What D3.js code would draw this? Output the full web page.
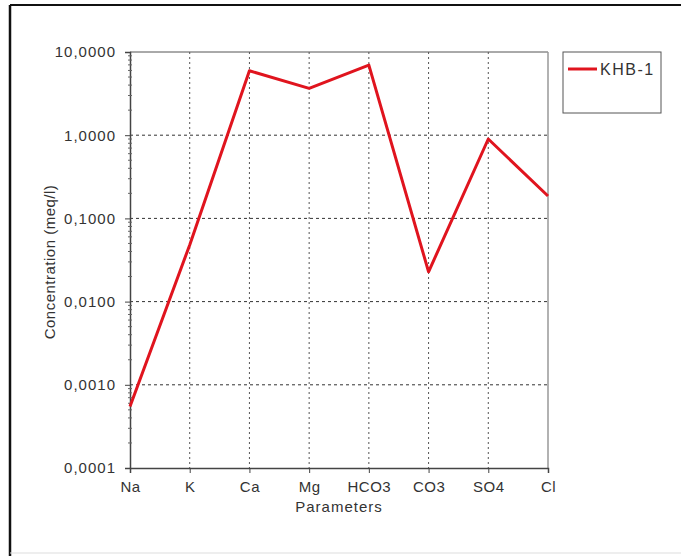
<!DOCTYPE html>
<html><head><meta charset="utf-8">
<script src="https://cdn.jsdelivr.net/npm/d3@7"></script>
<style>body{margin:0;background:#fff;}svg{display:block;font-family:"Liberation Sans",Arial,sans-serif;}</style>
</head><body>
<svg id="c" width="681" height="556"></svg>
<script>
const categories = ["Na","K","Ca","Mg","HCO3","CO3","SO4","Cl"];
const seriesName = "KHB-1";
const values = [0.00055, 0.048, 5.95, 3.65, 6.95, 0.0228, 0.9, 0.186];
const yTicks = [0.0001, 0.001, 0.01, 0.1, 1, 10];
const yTickLabels = ["0,0001","0,0010","0,0100","0,1000","1,0000","10,0000"];

const svg = d3.select("#c");
const L = 130, R = 548, T = 52, B = 468;
const x = d3.scalePoint().domain(categories).range([L, R]).padding(0);
const y = d3.scaleLog().domain([0.0001, 10]).range([B, T]);

// outer frame
svg.append("line").attr("x1",10).attr("x2",681).attr("y1",5).attr("y2",5).attr("stroke","#111").attr("stroke-width",2);
svg.append("line").attr("x1",10).attr("x2",10).attr("y1",5).attr("y2",556).attr("stroke","#111").attr("stroke-width",2.5);
svg.append("line").attr("x1",10).attr("x2",681).attr("y1",553).attr("y2",553).attr("stroke","#ddd").attr("stroke-width",1);

// gridlines
const g = svg.append("g");
g.selectAll(".hg").data(yTicks.slice(1,-1)).join("line")
  .attr("x1",L).attr("x2",R).attr("y1",d=>y(d)).attr("y2",d=>y(d))
  .attr("stroke","#333").attr("stroke-width",1).attr("stroke-dasharray","3,3");
g.selectAll(".vg").data(categories.slice(1,-1)).join("line")
  .attr("x1",d=>x(d)).attr("x2",d=>x(d)).attr("y1",T).attr("y2",B)
  .attr("stroke","#555").attr("stroke-width",1).attr("stroke-dasharray","2,3");

// frame top/right
svg.append("line").attr("x1",L).attr("x2",R).attr("y1",T).attr("y2",T).attr("stroke","#555");
svg.append("line").attr("x1",R).attr("x2",R).attr("y1",T).attr("y2",B).attr("stroke","#999").attr("stroke-width",1.5);

const font = "'Liberation Sans',Arial,sans-serif";
// y axis
const yAxis = d3.axisLeft(y).tickValues(yTicks).tickFormat((d,i)=>yTickLabels[i]).tickSize(5).tickPadding(9);
const ya = svg.append("g").attr("transform",`translate(${L},0)`).call(yAxis);
ya.select(".domain").attr("stroke","#444").attr("stroke-width",1.5);
ya.selectAll(".tick line").attr("stroke","#444");
ya.selectAll("text").attr("font-size",15).attr("letter-spacing",1).attr("fill","#333").attr("font-family",font);
// minor ticks
const minor = [];
for (let e=-4; e<1; e++) for (let m=2; m<10; m++) minor.push(m*Math.pow(10,e));
svg.append("g").selectAll("line").data(minor).join("line")
  .attr("x1",L-2).attr("x2",L+2).attr("y1",d=>y(d)).attr("y2",d=>y(d)).attr("stroke","#666");

// x axis
const xAxis = d3.axisBottom(x).tickSize(5).tickPadding(8);
const xa = svg.append("g").attr("transform",`translate(0,${B})`).call(xAxis);
xa.select(".domain").attr("stroke","#444").attr("stroke-width",1.5);
xa.selectAll(".tick line").attr("stroke","#444");
xa.selectAll("text").attr("font-size",15).attr("letter-spacing",0.5).attr("fill","#333").attr("font-family",font);

// titles
svg.append("text").attr("x",(L+R)/2).attr("y",512).attr("text-anchor","middle")
  .attr("font-size",15).attr("letter-spacing",1).attr("fill","#333").text("Parameters");
svg.append("text").attr("transform",`translate(55,${(T+B)/2+2}) rotate(-90)`).attr("text-anchor","middle")
  .attr("font-size",15).attr("letter-spacing",0.5).attr("fill","#333").text("Concentration (meq/l)");

// line
const line = d3.line().x((d,i)=>x(categories[i])).y(d=>y(d));
svg.append("path").datum(values).attr("d",line).attr("fill","none")
  .attr("stroke","#e0141e").attr("stroke-width",3).attr("stroke-linejoin","round");

// legend
const lg = svg.append("g");
lg.append("rect").attr("x",563).attr("y",52).attr("width",98).attr("height",61)
  .attr("fill","#fff").attr("stroke","#555");
lg.append("line").attr("x1",568).attr("x2",597).attr("y1",69).attr("y2",69)
  .attr("stroke","#e0141e").attr("stroke-width",3);
lg.append("text").attr("x",600).attr("y",75).attr("font-size",16).attr("letter-spacing",1.5).attr("fill","#333").text(seriesName);
</script>
</body></html>
